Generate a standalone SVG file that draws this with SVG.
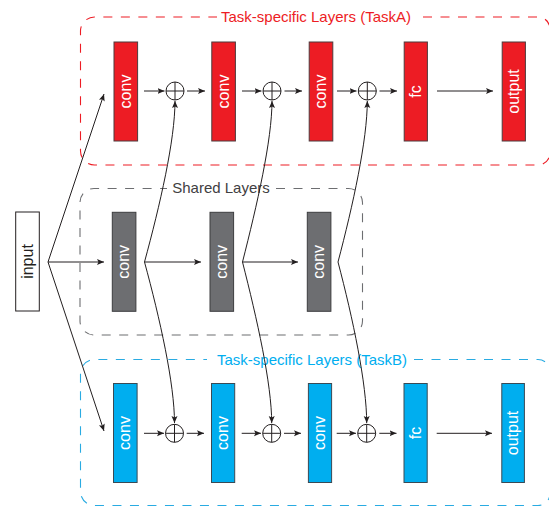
<svg xmlns="http://www.w3.org/2000/svg" width="549" height="507" viewBox="0 0 549 507">
<defs>
<marker id="ah" markerUnits="userSpaceOnUse" markerWidth="8" markerHeight="7" refX="7" refY="3" orient="auto">
<path d="M0,0 L7,3 L0,6 L1.5,3 z" fill="#231f20"/>
</marker>
<style>
.lbl{font-family:"Liberation Sans",Arial,sans-serif;font-size:16px;fill:#fff;text-anchor:middle}
.ttl{font-family:"Liberation Sans",Arial,sans-serif;font-size:15px;text-anchor:middle}
.red{fill:#ed1c24;stroke:#4d3b3c;stroke-width:1}
.grey{fill:#6d6e71;stroke:#3d3d3f;stroke-width:1}
.blue{fill:#00aeef;stroke:#3a4a55;stroke-width:1}
.dash{fill:none;stroke-width:1.1;stroke-dasharray:9 8.5}
.ln{fill:none;stroke:#231f20;stroke-width:1}
.arr{fill:none;stroke:#231f20;stroke-width:1;marker-end:url(#ah)}
.sum circle{fill:#fff;stroke:#231f20;stroke-width:1}
.sum path{stroke:#231f20;stroke-width:1}
</style>
</defs>

<g id="groupA">
<path class="dash" stroke="#ed1c24" d="M423,17 H538 A12,12 0 0 1 550,29 V153 A12,12 0 0 1 538,165 H94.5 A14,14 0 0 1 80.5,151 V31 A14,14 0 0 1 94.5,17 H217"/>
<text class="ttl" x="316" y="22" fill="#ed1c24">Task-specific Layers (TaskA)</text>
</g>
<g id="groupShared">
<path class="dash" stroke="#6d6e71" d="M276,188.5 H348.5 A14,14 0 0 1 362.5,202.5 V321 A14,14 0 0 1 348.5,335 H94 A14,14 0 0 1 80,321 V202.5 A14,14 0 0 1 94,188.5 H167"/>
<text class="ttl" x="221" y="193" fill="#414042">Shared Layers</text>
</g>
<g id="groupB">
<path class="dash" stroke="#29abe2" d="M414,359.5 H538 A12,12 0 0 1 550,371.5 V493.5 A12,12 0 0 1 538,505.5 H94.5 A14,14 0 0 1 80.5,491.5 V373.5 A14,14 0 0 1 94.5,359.5 H207"/>
<text class="ttl" x="312" y="364.5" fill="#00aeef">Task-specific Layers (TaskB)</text>
</g>

<g id="input"><rect x="15.7" y="212" width="23.6" height="99" fill="#fff" stroke="#231f20" stroke-width="1"/><text class="lbl" fill="#231f20" style="fill:#231f20" transform="translate(32.5,261.5) rotate(-90)">input</text></g>

<g id="a_conv1"><rect class="red" x="114" y="42" width="23.6" height="99"/><text class="lbl" transform="translate(130.8,91.5) rotate(-90)">conv</text></g>
<g id="a_conv2"><rect class="red" x="211.8" y="42" width="23.6" height="99"/><text class="lbl" transform="translate(228.6,91.5) rotate(-90)">conv</text></g>
<g id="a_conv3"><rect class="red" x="309.2" y="42" width="23.6" height="99"/><text class="lbl" transform="translate(326,91.5) rotate(-90)">conv</text></g>
<g id="a_fc"><rect class="red" x="404.2" y="42" width="23.2" height="99"/><text class="lbl" transform="translate(420.8,91.5) rotate(-90)">fc</text></g>
<g id="a_output"><rect class="red" x="502.2" y="42" width="23.2" height="99"/><text class="lbl" transform="translate(518.8,91.5) rotate(-90)">output</text></g>

<g id="s_conv1"><rect class="grey" x="112.3" y="212.3" width="23.6" height="99"/><text class="lbl" transform="translate(129.1,261.8) rotate(-90)">conv</text></g>
<g id="s_conv2"><rect class="grey" x="210" y="212.3" width="23.6" height="99"/><text class="lbl" transform="translate(226.8,261.8) rotate(-90)">conv</text></g>
<g id="s_conv3"><rect class="grey" x="307.3" y="212.3" width="23.6" height="99"/><text class="lbl" transform="translate(324.1,261.8) rotate(-90)">conv</text></g>

<g id="b_conv1"><rect class="blue" x="113.5" y="383.5" width="23.6" height="99"/><text class="lbl" transform="translate(130.3,433) rotate(-90)">conv</text></g>
<g id="b_conv2"><rect class="blue" x="211.5" y="383.5" width="23.2" height="99"/><text class="lbl" transform="translate(228.1,433) rotate(-90)">conv</text></g>
<g id="b_conv3"><rect class="blue" x="308.4" y="383.5" width="23.2" height="99"/><text class="lbl" transform="translate(325,433) rotate(-90)">conv</text></g>
<g id="b_fc"><rect class="blue" x="404" y="383.5" width="23.2" height="99"/><text class="lbl" transform="translate(420.6,433) rotate(-90)">fc</text></g>
<g id="b_output"><rect class="blue" x="501.8" y="383.5" width="22.6" height="99"/><text class="lbl" transform="translate(518.1,433) rotate(-90)">output</text></g>

<g id="sums" class="sum">
<g id="a_sum1"><circle cx="175" cy="91" r="9"/><path d="M166,91 H184 M175,82 V100"/></g>
<g id="a_sum2"><circle cx="272" cy="91" r="9"/><path d="M263,91 H281 M272,82 V100"/></g>
<g id="a_sum3"><circle cx="367.3" cy="91" r="9"/><path d="M358.3,91 H376.3 M367.3,82 V100"/></g>
<g id="b_sum1"><circle cx="174.5" cy="433.3" r="9"/><path d="M165.5,433.3 H183.5 M174.5,424.3 V442.3"/></g>
<g id="b_sum2"><circle cx="271.7" cy="433.3" r="9"/><path d="M262.7,433.3 H280.7 M271.7,424.3 V442.3"/></g>
<g id="b_sum3"><circle cx="366.7" cy="433.3" r="9"/><path d="M357.7,433.3 H375.7 M366.7,424.3 V442.3"/></g>
</g>

<g id="connectors">
<!-- from input -->
<path class="arr" d="M48,262 L104,94"/>
<path class="arr" d="M48,262 H104"/>
<path class="arr" d="M48,262 L104,431"/>
<!-- top row -->
<path class="arr" d="M144,91 H164.5"/>
<path class="arr" d="M187,91 H205"/>
<path class="arr" d="M242,91 H261.5"/>
<path class="arr" d="M284.5,91 H302"/>
<path class="arr" d="M337,91 H356.5"/>
<path class="arr" d="M379.5,91 H397"/>
<path class="arr" d="M437,91 H493"/>
<!-- bottom row -->
<path class="arr" d="M144,433.3 H164"/>
<path class="arr" d="M186.7,433.3 H204"/>
<path class="arr" d="M241.7,433.3 H261"/>
<path class="arr" d="M284,433.3 H301"/>
<path class="arr" d="M336.7,433.3 H356"/>
<path class="arr" d="M379.3,433.3 H396.5"/>
<path class="arr" d="M436.7,433.3 H492"/>
<!-- shared row -->
<path class="arr" d="M144.5,262 H201"/>
<path class="arr" d="M242.5,262 H298"/>
<!-- skip curves -->
<path class="arr" d="M144.5,262 C160,205 175,140 175,101"/>
<path class="arr" d="M144.5,262 C160,319 174.5,384 174.5,423"/>
<path class="arr" d="M242.5,262 C257,205 272,140 272,101"/>
<path class="arr" d="M242.5,262 C257,319 271.7,384 271.7,423"/>
<path class="arr" d="M338,262 C353,205 367.3,140 367.3,101"/>
<path class="arr" d="M338,262 C353,319 366.7,384 366.7,423"/>
</g>
</svg>
